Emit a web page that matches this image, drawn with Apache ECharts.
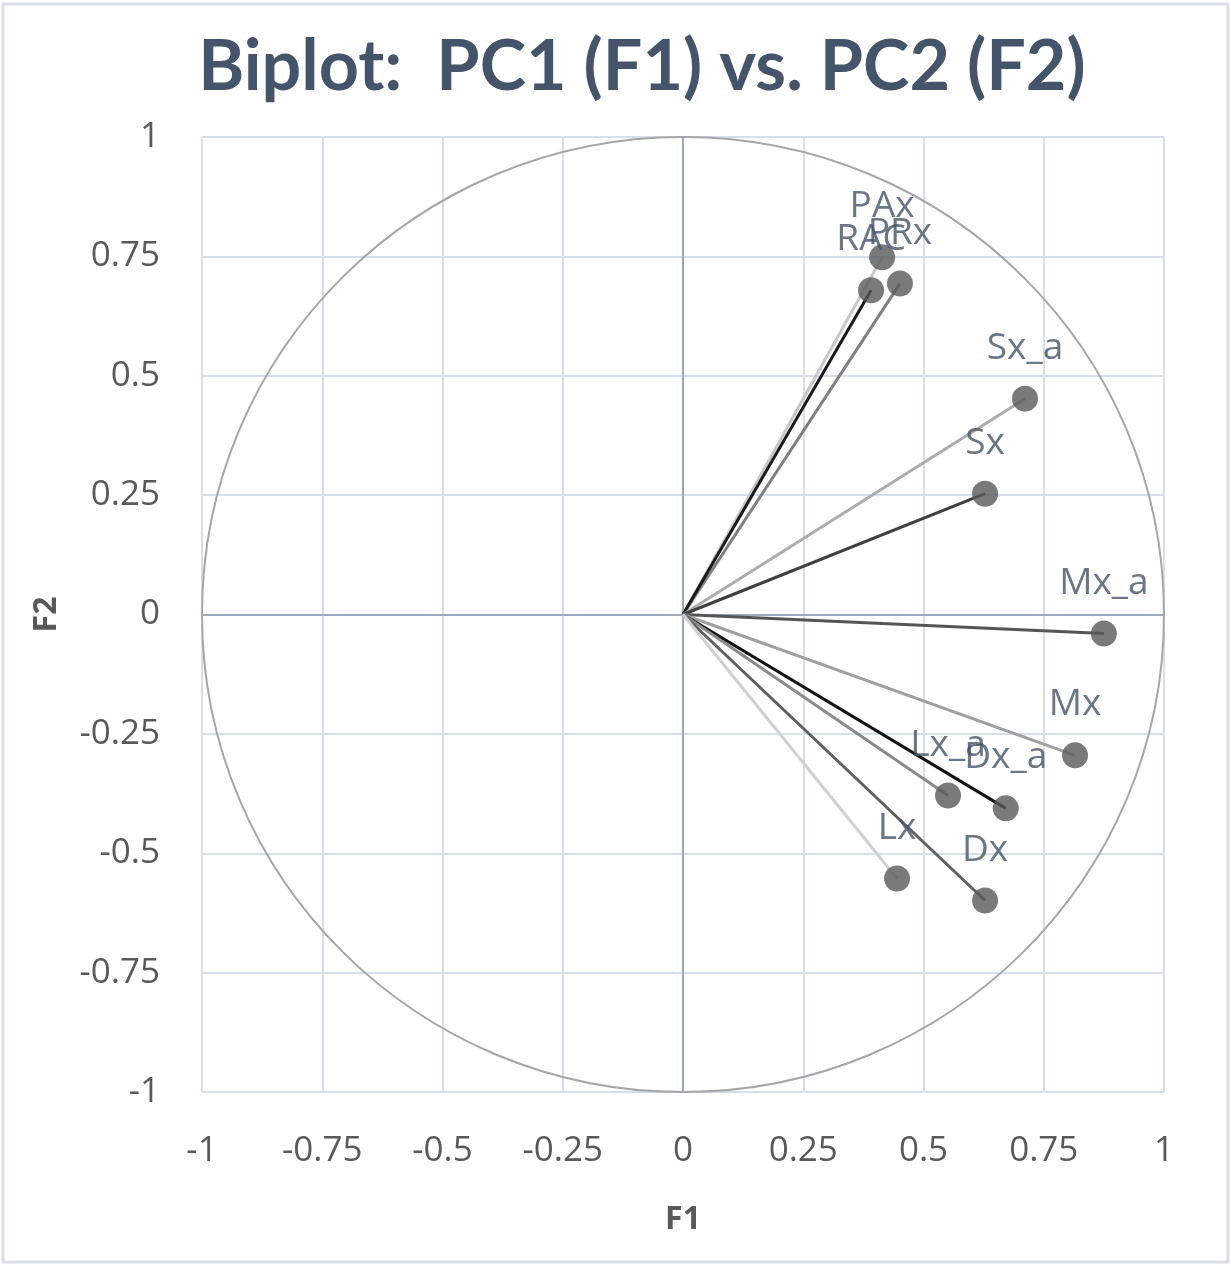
<!DOCTYPE html>
<html><head><meta charset="utf-8">
<style>html,body{margin:0;padding:0;background:#fff}#c{width:1231px;height:1266px}</style>
<script src="https://cdn.jsdelivr.net/npm/echarts@6/dist/echarts.min.js"></script>
</head><body><div id="c"></div>
<script>
const names = ['PAx','PRx','RAC','Sx_a','Sx','Mx_a','Mx','Dx_a','Lx_a','Dx','Lx'];
const f1 = [0.414, 0.451, 0.391, 0.711, 0.628, 0.875, 0.815, 0.671, 0.551, 0.628, 0.445];
const f2 = [0.748, 0.693, 0.679, 0.452, 0.253, -0.040, -0.295, -0.406, -0.379, -0.599, -0.553];
const lineColors = ['#c8c8c8','#7f7f7f','#1a1a1a','#adadad','#3f3f3f','#555555','#a0a0a0','#111111','#8a8a8a','#606060','#d0d0d0'];
const tickVals = [-1,-0.75,-0.5,-0.25,0,0.25,0.5,0.75,1];

const chart = echarts.init(document.getElementById('c'));
const series = [];
series.push({
  type: 'custom', silent: true, z: 1,
  data: [[0,0]],
  renderItem: function(params, api){
    const c = api.coord([0,0]);
    const r1 = api.coord([1,0]);
    const r2 = api.coord([0,1]);
    return {type:'ellipse', shape:{cx:c[0], cy:c[1], rx:Math.abs(r1[0]-c[0]), ry:Math.abs(c[1]-r2[1])},
      style:{fill:'none', stroke:'#a6a6a6', lineWidth:2}};
  }
});
names.forEach((n,i)=>{
  series.push({
    type:'line', name:n, z:3, symbol:'none', silent:true,
    lineStyle:{color:lineColors[i], width:3},
    data:[[0,0],[f1[i],f2[i]]]
  });
});
series.push({
  type:'scatter', z:5, symbol:'circle', symbolSize:26,
  itemStyle:{color:'#595959'},
  label:{show:true, position:'top', distance:19, formatter:p=>names[p.dataIndex],
    color:'#44546A', fontSize:37, fontFamily:'Open Sans'},
  data: f1.map((x,i)=>[x,f2[i]])
});

const axisCommon = {
  type:'value', min:-1, max:1, interval:0.25,
  splitLine:{show:true, lineStyle:{color:'#d9dfe9', width:2}},
  axisTick:{show:false},
  axisLine:{show:true, onZero:true, lineStyle:{color:'#9aaac0', width:2}},
  axisLabel:{color:'#595959', fontSize:35, fontFamily:'Open Sans',
    formatter:v=>{ const t = tickVals.find(k=>Math.abs(k-v)<1e-9); return t===undefined?'':String(t);} },
  nameLocation:'middle',
  nameTextStyle:{color:'#595959', fontSize:32, fontWeight:'bold', fontFamily:'Open Sans'}
};

chart.setOption({
  animation:false,
  backgroundColor:'#fff',
  title:{text:'Biplot:  PC1 (F1) vs. PC2 (F2)', left:637, top:27, textAlign:'center',
    textStyle:{color:'#44546A', fontSize:70, fontWeight:'bold', fontFamily:'Lato'}},
  grid:{left:202, right:67, top:137, bottom:174, containLabel:false},
  xAxis:Object.assign({}, axisCommon, {name:'F1', nameGap:112,
    axisLabel:Object.assign({}, axisCommon.axisLabel, {margin:42})}),
  yAxis:Object.assign({}, axisCommon, {name:'F2', nameGap:139, nameRotate:90,
    axisLabel:Object.assign({}, axisCommon.axisLabel, {margin:42})}),
  graphic:[{type:'rect', shape:{x:3, y:4, width:1225, height:1258}, style:{fill:'none', stroke:'#dcdfe4', lineWidth:3}, silent:true}],
  series: series
});
</script></body></html>
